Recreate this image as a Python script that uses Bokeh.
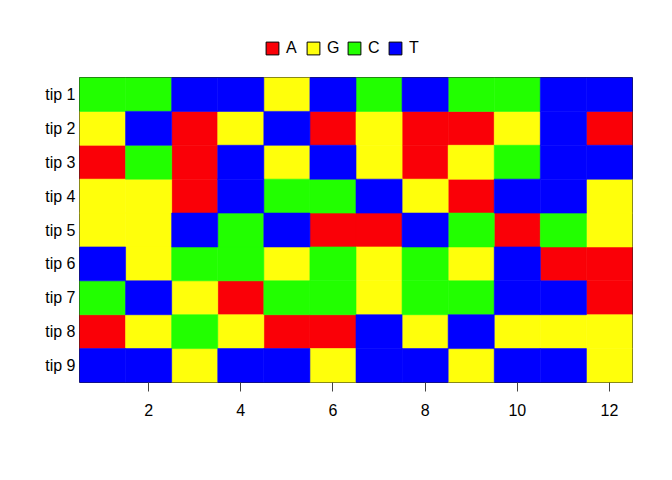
from bokeh.plotting import figure
from bokeh.layouts import column
from bokeh.models import Range1d, FactorRange, FixedTicker, Legend, LegendItem
from bokeh.embed import file_html
from bokeh.resources import INLINE

tips = ["tip 1", "tip 2", "tip 3", "tip 4", "tip 5", "tip 6", "tip 7", "tip 8", "tip 9"]
positions = list(range(1, 13))
seqs = [
    "CCTTGTCTCCTT",
    "GTAGTAGAAGTA",
    "ACATGTGAGCTT",
    "GGATCCTGATTG",
    "GGTCTAATCACG",
    "TGCCGCGCGTAA",
    "CTGACCGCCTTA",
    "AGCGAATGTGGG",
    "TTGTTGTTGTTG",
]
bases = ["A", "G", "C", "T"]
base_colors = {"A": "#FA0007", "G": "#FFFF0B", "C": "#22FF00", "T": "#0000FF"}
x_ticks = [2, 4, 6, 8, 10, 12]

FONT = "Liberation Sans"

# ---- legend strip ----
lg = figure(output_backend="svg", toolbar_location=None, width=664, height=77,
            x_range=Range1d(0, 1), y_range=Range1d(0, 1),
            min_border=0, min_border_left=0, min_border_right=0,
            min_border_top=0, min_border_bottom=0)
lg.axis.visible = False
lg.grid.visible = False
lg.outline_line_color = None
lg.background_fill_color = "white"
lg.border_fill_color = "white"

items = []
for b in bases:
    # proxy glyph kept outside the visible range; only its legend swatch shows
    r = lg.rect(x=[-5], y=[-5], width=1, height=1, fill_color=base_colors[b],
                line_color="black", line_width=1)
    items.append(LegendItem(label=b, renderers=[r]))

legend = Legend(items=items, orientation="horizontal", location=(185, 20),
                border_line_color=None, background_fill_alpha=0,
                glyph_width=16, glyph_height=16, label_standoff=6, spacing=0,
                label_width=19, padding=0, margin=0,
                label_text_font=FONT, label_text_font_size="16px", label_text_color="black")
lg.add_layout(legend, "center")

# ---- main heatmap ----
p = figure(
    output_backend="svg", toolbar_location=None,
    x_range=Range1d(0.5, 12.5),
    y_range=FactorRange(factors=list(reversed(tips))),
    width=664, height=395,
    min_border_left=79, min_border_right=32, min_border_top=0, min_border_bottom=90,
)

for b in bases:
    xs, ys = [], []
    for t, s in zip(tips, seqs):
        for pos, ch in zip(positions, s):
            if ch == b:
                xs.append(pos)
                ys.append(t)
    p.rect(x=xs, y=ys, width=1, height=1, fill_color=base_colors[b],
           line_color=base_colors[b], line_width=0.6)

p.xgrid.visible = False
p.ygrid.visible = False
p.outline_line_color = "#222222"
p.outline_line_width = 1
p.background_fill_color = "white"
p.border_fill_color = "white"

xa = p.xaxis[0]
xa.ticker = FixedTicker(ticks=x_ticks)
xa.axis_line_color = None
xa.major_tick_out = 9
xa.major_tick_in = 0
xa.major_tick_line_color = "#444444"
xa.minor_tick_line_color = None
xa.major_label_standoff = 12
xa.major_label_text_font = FONT
xa.major_label_text_font_size = "16px"
xa.major_label_text_color = "black"

ya = p.yaxis[0]
ya.axis_line_color = None
ya.major_tick_line_color = None
ya.major_tick_out = 0
ya.major_tick_in = 0
ya.minor_tick_line_color = None
ya.major_label_standoff = 4
ya.major_label_text_font = FONT
ya.major_label_text_font_size = "16px"
ya.major_label_text_color = "black"

layout = column(lg, p, spacing=0)
open("out.html", "w").write(file_html(layout, INLINE))
